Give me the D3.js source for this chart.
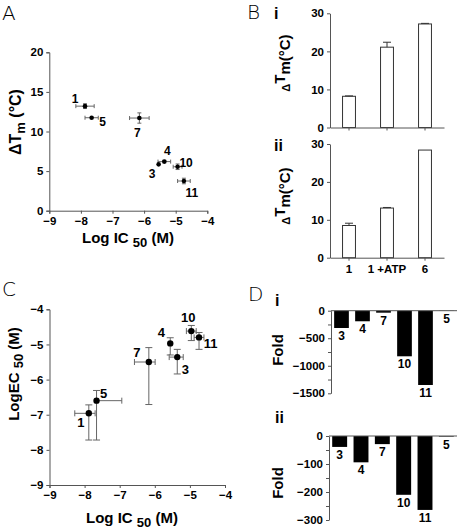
<!DOCTYPE html>
<html><head><meta charset="utf-8">
<script src="https://cdn.jsdelivr.net/npm/d3@7/dist/d3.min.js"></script>
<style>
html,body{margin:0;padding:0;background:#fff;}
svg{display:block;font-family:"Liberation Sans",Arial,sans-serif;}
.tick text{font-weight:bold;font-size:11.5px;fill:#000;}
.lbl{font-weight:bold;font-size:12px;fill:#000;}
.ttl{font-weight:bold;fill:#000;}
.panel{font-size:20px;font-weight:300;fill:#000;font-family:"DejaVu Sans","Liberation Sans",sans-serif;}
</style>
</head><body>
<script>
// ---- Data ----
// Panel A: Log IC50 vs ΔTm
const aLabels = ["1","5","7","4","3","10","11"];
const aLogIC50 = [-7.87,-7.66,-6.15,-5.36,-5.54,-4.94,-4.74];
const aDTm = [13.2,11.74,11.7,6.2,5.85,5.55,3.75];
const aXErr = [0.29,0.21,0.31,0.2,0,0.14,0.2];
const aYErr = [0.3,0,0.65,0.15,0,0.35,0.35];
const aXTicks = [-9,-8,-7,-6,-5,-4];
const aYTicks = [0,5,10,15,20];

// Panel B: ΔTm bars
const bCats = ["1","1 +ATP","6"];
const bI = [8.2,21.1,27.2];
const bIErr = [0.1,1.3,0.15];
const bII = [8.5,13.1,28.4];
const bIIErr = [0.6,0.15,0];
const bYTicks = [0,10,20,30];

// Panel C: Log IC50 vs Log EC50
const cLabels = ["1","5","7","4","3","10","11"];
const cLogIC50 = [-7.88,-7.66,-6.17,-5.56,-5.36,-4.96,-4.74];
const cLogEC50 = [-6.96,-6.60,-5.50,-4.97,-5.36,-4.62,-4.80];
const cXLo = [-8.28,-7.66,-6.58,-5.56,-5.59,-5.10,-4.88];
const cXHi = [-7.70,-6.94,-5.99,-5.56,-5.19,-4.82,-4.60];
const cYLo = [-7.72,-7.72,-6.71,-5.30,-5.84,-4.89,-5.14];
const cYHi = [-6.72,-6.31,-5.09,-4.81,-5.14,-4.46,-4.66];
const cXTicks = [-9,-8,-7,-6,-5,-4];
const cYTicks = [-9,-8,-7,-6,-5,-4];

// Panel D: fold bars
const dCats = ["3","4","7","10","11","5"];
const dI = [-314,-192,-36,-828,-1349,-4];
const dII = [-39,-94,-29,-210,-264,-2];
const dITicks = [0,-250,-500,-750,-1000,-1250,-1500];
const dIITicks = [0,-50,-100,-150,-200,-250,-300];

// ---- Drawing ----
const svg = d3.select("body").append("svg").attr("width",460).attr("height",530);
const AX = "#555", EB = "#666";

function styleAxis(g){
  g.select(".domain").attr("stroke",AX).attr("stroke-width",1);
  g.selectAll(".tick line").attr("stroke",AX);
}
function panelLetter(t,x,y){ svg.append("text").attr("class","panel").attr("x",x).attr("y",y).text(t); }

// Scatter panel helper
function errBar(g,x1,y1,x2,y2,cap,vertical){
  g.append("line").attr("x1",x1).attr("y1",y1).attr("x2",x2).attr("y2",y2).attr("stroke",EB).attr("stroke-width",1);
  if(vertical){
    [y1,y2].forEach(y=>g.append("line").attr("x1",x1-cap).attr("x2",x1+cap).attr("y1",y).attr("y2",y).attr("stroke",EB));
  } else {
    [x1,x2].forEach(x=>g.append("line").attr("x1",x).attr("x2",x).attr("y1",y1-cap).attr("y2",y1+cap).attr("stroke",EB));
  }
}

// ---- Panel A ----
{
  panelLetter("A",2,20);
  const x = d3.scaleLinear().domain([-9,-4]).range([49.3,207.3]);
  const y = d3.scaleLinear().domain([0,20]).range([210.7,52.3]);
  const g = svg.append("g");
  g.append("g").attr("transform","translate(0,"+y(0)+")")
    .call(d3.axisBottom(x).tickValues(aXTicks).tickSize(3).tickPadding(3).tickFormat(d3.format("d"))).call(styleAxis);
  g.append("g").attr("transform","translate("+x(-9)+",0)")
    .call(d3.axisLeft(y).tickValues(aYTicks).tickSize(3).tickPadding(3)).call(styleAxis);
  aLabels.forEach((l,i)=>{
    const px=x(aLogIC50[i]), py=y(aDTm[i]);
    if(aXErr[i]>0) errBar(g,x(aLogIC50[i]-aXErr[i]),py,x(aLogIC50[i]+aXErr[i]),py,2,false);
    if(aYErr[i]>0) errBar(g,px,y(aDTm[i]-aYErr[i]),px,y(aDTm[i]+aYErr[i]),2,true);
    g.append("circle").attr("cx",px).attr("cy",py).attr("r",2.3).attr("fill","#000");
  });
  const off = {"1":[-10,-3],"5":[11,8],"7":[-2,19],"4":[3,-7],"3":[-6.5,14],"10":[8.5,0.5],"11":[8,16]};
  aLabels.forEach((l,i)=>{
    g.append("text").attr("class","lbl").attr("text-anchor","middle")
      .attr("x",x(aLogIC50[i])+off[l][0]).attr("y",y(aDTm[i])+off[l][1]).text(l);
  });
  const t = g.append("text").attr("class","ttl").attr("x",128).attr("y",243).attr("text-anchor","middle").style("font-size","15px");
  t.append("tspan").text("Log IC ");
  t.append("tspan").text("50").attr("dy",4).style("font-size","13px");
  t.append("tspan").text(" (M)").attr("dy",-4);
  const ty = g.append("text").attr("class","ttl").attr("transform","translate(21,122) rotate(-90)").attr("text-anchor","middle").style("font-size","16px");
  ty.append("tspan").text("\u0394T");
  ty.append("tspan").text("m").attr("dy",4).style("font-size","13px");
  ty.append("tspan").text(" (\u00B0C)").attr("dy",-4);
}

// ---- Panel B ----
function barB(vals,errs,y0,y30,label,lx,ly,showX,titleY){
  const x = d3.scaleBand().domain(bCats).range([330,444]).paddingInner(0.66).paddingOuter(0.33);
  const y = d3.scaleLinear().domain([0,30]).range([y0,y30]);
  const g = svg.append("g");
  bCats.forEach((c,i)=>{
    g.append("rect").attr("x",x(c)).attr("y",y(vals[i])).attr("width",x.bandwidth()).attr("height",y(0)-y(vals[i]))
      .attr("fill","#fff").attr("stroke","#333").attr("stroke-width",1);
    if(errs[i]>0){
      const cx=x(c)+x.bandwidth()/2;
      g.append("line").attr("x1",cx).attr("x2",cx).attr("y1",y(vals[i])).attr("y2",y(vals[i]+errs[i])).attr("stroke","#333");
      g.append("line").attr("x1",cx-4).attr("x2",cx+4).attr("y1",y(vals[i]+errs[i])).attr("y2",y(vals[i]+errs[i])).attr("stroke","#333");
    }
  });
  g.append("g").attr("transform","translate(0,"+y(0)+")")
    .call(d3.axisBottom(x).tickSize(3).tickPadding(4).tickSizeOuter(0).tickFormat(showX?(d=>d):(()=>""))).call(styleAxis);
  g.append("g").attr("transform","translate(330,0)")
    .call(d3.axisLeft(y).tickValues(bYTicks).tickSize(3).tickPadding(3).tickSizeOuter(0)).call(styleAxis);
  svg.append("text").attr("class","ttl").attr("x",lx).attr("y",ly).style("font-size","16px").text(label);
  const ty = g.append("text").attr("class","ttl").attr("transform","translate(290,"+titleY+") rotate(-90)").attr("text-anchor","middle").style("font-size","15px");
  ty.append("tspan").text("\u0394").style("font-size","11px");
  ty.append("tspan").text("T").attr("dy",-5);
  ty.append("tspan").text("m").attr("dy",5);
  ty.append("tspan").text("(\u00B0C)");
}
panelLetter("B",247,19);
barB(bI,bIErr,127.5,13.3,"i",274,19,false,63);
barB(bII,bIIErr,257.7,144,"ii",274,151,true,196);

// ---- Panel C ----
{
  panelLetter("C",2,296);
  const x = d3.scaleLinear().domain([-9,-4]).range([49.5,225]);
  const y = d3.scaleLinear().domain([-9,-4]).range([485,309.3]);
  const g = svg.append("g");
  g.append("g").attr("transform","translate(0,"+y(-9)+")")
    .call(d3.axisBottom(x).tickValues(cXTicks).tickSize(3).tickPadding(3).tickFormat(d3.format("d"))).call(styleAxis);
  g.append("g").attr("transform","translate("+x(-9)+",0)")
    .call(d3.axisLeft(y).tickValues(cYTicks).tickSize(3).tickPadding(3).tickFormat(d3.format("d"))).call(styleAxis);
  cLabels.forEach((l,i)=>{
    const px=x(cLogIC50[i]), py=y(cLogEC50[i]);
    if(cXHi[i]>cXLo[i]){
      const xl=x(cXLo[i]), xh=x(cXHi[i]);
      g.append("line").attr("x1",xl).attr("x2",xh).attr("y1",py).attr("y2",py).attr("stroke",EB);
      if(cXLo[i]<cLogIC50[i]) g.append("line").attr("x1",xl).attr("x2",xl).attr("y1",py-3).attr("y2",py+3).attr("stroke",EB);
      g.append("line").attr("x1",xh).attr("x2",xh).attr("y1",py-3).attr("y2",py+3).attr("stroke",EB);
    }
    errBar(g,px,y(cYLo[i]),px,y(cYHi[i]),3.5,true);
    g.append("circle").attr("cx",px).attr("cy",py).attr("r",3.2).attr("fill","#000");
  });
  const off = {"1":[-8,14],"5":[7,-2.5],"7":[-12,-5],"4":[-9,-6],"3":[8,17],"10":[-3,-9],"11":[11.5,10.5]};
  cLabels.forEach((l,i)=>{
    g.append("text").attr("class","lbl").attr("text-anchor","middle").style("font-size","13px")
      .attr("x",x(cLogIC50[i])+off[l][0]).attr("y",y(cLogEC50[i])+off[l][1]).text(l);
  });
  const t = g.append("text").attr("class","ttl").attr("x",132).attr("y",523).attr("text-anchor","middle").style("font-size","15px");
  t.append("tspan").text("Log IC ");
  t.append("tspan").text("50").attr("dy",4).style("font-size","13px");
  t.append("tspan").text(" (M)").attr("dy",-4);
  const ty = g.append("text").attr("class","ttl").attr("transform","translate(19,374) rotate(-90)").attr("text-anchor","middle").style("font-size","15px");
  ty.append("tspan").text("LogEC ");
  ty.append("tspan").text("50").attr("dy",4).style("font-size","13px");
  ty.append("tspan").text(" (M)").attr("dy",-4);
}

// ---- Panel D ----
function barD(vals,y0,yMin,yMinPx,ticks,ax,label,ly,titleY){
  const x = d3.scaleBand().domain(dCats).range([ax,457]).paddingInner(0.3).paddingOuter(0.15);
  const y = d3.scaleLinear().domain([0,yMin]).range([y0,yMinPx]);
  const g = svg.append("g");
  dCats.forEach((c,i)=>{
    g.append("rect").attr("x",x(c)).attr("y",y(0)).attr("width",x.bandwidth()).attr("height",y(vals[i])-y(0)).attr("fill","#000");
    g.append("text").attr("class","lbl").attr("text-anchor","middle")
      .attr("x",x(c)+x.bandwidth()/2).attr("y",y(vals[i])+12).text(c);
  });
  g.append("line").attr("x1",ax).attr("x2",457).attr("y1",y(0)).attr("y2",y(0)).attr("stroke",AX);
  g.append("g").attr("transform","translate("+ax+",0)")
    .call(d3.axisLeft(y).tickValues(ticks).tickSize(3).tickPadding(3).tickSizeOuter(0)
      .tickFormat((d,i)=>i%2===0?d3.format("d")(d):"")).call(styleAxis);
  svg.append("text").attr("class","ttl").attr("x",275).attr("y",ly).style("font-size","16px").text(label);
  g.append("text").attr("class","ttl").attr("transform","translate(283,"+titleY+") rotate(-90)").attr("text-anchor","middle").style("font-size","15px").text("Fold");
}
panelLetter("D",248,301);
barD(dI,310.7,-1500,393.3,dITicks,331,"i",306,350);
barD(dII,436,-300,520,dIITicks,329,"ii",423,483);
</script>
</body></html>
